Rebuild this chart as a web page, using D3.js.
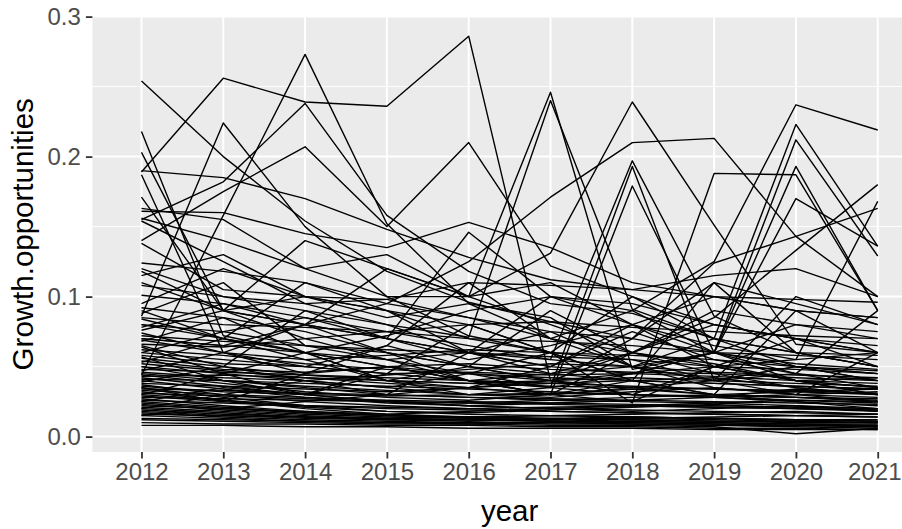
<!DOCTYPE html>
<html>
<head>
<meta charset="utf-8">
<script src="https://cdn.jsdelivr.net/npm/d3@7"></script>
<style>
  html, body { margin: 0; padding: 0; background: #ffffff; }
  svg { display: block; }
</style>
</head>
<body>
<svg id="chart" width="902" height="529"></svg>
<script>
// ---------------- data ----------------
const years = [2012, 2013, 2014, 2015, 2016, 2017, 2018, 2019, 2020, 2021];
const yTickValues = [0.0, 0.1, 0.2, 0.3];
const yTickLabels = ["0.0", "0.1", "0.2", "0.3"];
const xLabel = "year";
const yLabel = "Growth.opportunities";

// firms with pronounced peaks (upper part of the chart)
const upperSeries = [
  [0.189,0.256,0.239,0.236,0.286,0.040,0.030,0.028,0.034,0.030],
  [0.254,0.200,0.154,0.118,0.096,0.082,0.070,0.060,0.052,0.048],
  [0.044,0.158,0.273,0.152,0.095,0.070,0.060,0.052,0.040,0.038],
  [0.086,0.224,0.150,0.100,0.072,0.060,0.055,0.040,0.045,0.035],
  [0.140,0.175,0.207,0.150,0.210,0.122,0.100,0.080,0.070,0.060],
  [0.155,0.182,0.238,0.158,0.118,0.095,0.088,0.070,0.060,0.058],
  [0.218,0.072,0.060,0.055,0.045,0.040,0.035,0.030,0.028,0.025],
  [0.203,0.090,0.070,0.055,0.060,0.045,0.040,0.042,0.035,0.030],
  [0.190,0.185,0.170,0.148,0.128,0.112,0.105,0.100,0.098,0.096],
  [0.187,0.060,0.045,0.050,0.040,0.035,0.030,0.028,0.025,0.022],
  [0.070,0.065,0.080,0.095,0.125,0.171,0.210,0.213,0.143,0.100],
  [0.163,0.155,0.120,0.130,0.100,0.131,0.239,0.151,0.066,0.060],
  [0.161,0.160,0.145,0.135,0.153,0.135,0.110,0.100,0.090,0.085],
  [0.156,0.140,0.120,0.100,0.100,0.246,0.048,0.060,0.040,0.035],
  [0.154,0.125,0.095,0.080,0.071,0.240,0.091,0.070,0.060,0.050],
  [0.138,0.105,0.100,0.090,0.080,0.060,0.024,0.188,0.187,0.090],
  [0.124,0.118,0.110,0.095,0.085,0.070,0.090,0.125,0.237,0.219],
  [0.118,0.090,0.080,0.070,0.060,0.055,0.050,0.070,0.223,0.136],
  [0.108,0.100,0.090,0.080,0.060,0.050,0.045,0.060,0.212,0.129],
  [0.101,0.095,0.085,0.075,0.065,0.055,0.197,0.086,0.060,0.050],
  [0.090,0.070,0.060,0.050,0.045,0.035,0.193,0.040,0.050,0.045],
  [0.080,0.075,0.065,0.060,0.050,0.045,0.060,0.085,0.133,0.180],
  [0.060,0.055,0.050,0.045,0.040,0.038,0.070,0.124,0.143,0.163],
  [0.070,0.065,0.060,0.050,0.040,0.045,0.050,0.060,0.193,0.090],
  [0.050,0.045,0.040,0.035,0.030,0.030,0.179,0.060,0.170,0.136],
  [0.171,0.090,0.080,0.070,0.146,0.100,0.080,0.065,0.055,0.168]
];

// firms moving in the middle band
const middleSeries = [
  [0.120,0.100,0.095,0.098,0.110,0.108,0.105,0.115,0.120,0.100],
  [0.115,0.130,0.100,0.090,0.060,0.050,0.080,0.100,0.090,0.085],
  [0.110,0.090,0.140,0.120,0.100,0.110,0.080,0.050,0.040,0.030],
  [0.095,0.120,0.100,0.085,0.095,0.085,0.050,0.040,0.100,0.080],
  [0.092,0.085,0.060,0.040,0.050,0.090,0.060,0.050,0.040,0.035],
  [0.088,0.110,0.065,0.055,0.040,0.030,0.040,0.110,0.060,0.050],
  [0.084,0.070,0.110,0.090,0.070,0.060,0.100,0.070,0.050,0.040],
  [0.078,0.095,0.080,0.120,0.100,0.080,0.060,0.080,0.070,0.060],
  [0.074,0.060,0.050,0.065,0.110,0.070,0.050,0.040,0.030,0.025],
  [0.068,0.085,0.075,0.060,0.040,0.030,0.060,0.090,0.080,0.075],
  [0.065,0.050,0.090,0.070,0.060,0.100,0.090,0.060,0.050,0.045],
  [0.057,0.040,0.030,0.045,0.080,0.060,0.040,0.030,0.090,0.060],
  [0.053,0.070,0.055,0.040,0.035,0.050,0.075,0.055,0.045,0.090],
  [0.047,0.060,0.080,0.060,0.050,0.040,0.030,0.050,0.070,0.050],
  [0.039,0.050,0.040,0.030,0.060,0.075,0.050,0.035,0.030,0.060],
  [0.035,0.025,0.045,0.065,0.050,0.040,0.060,0.045,0.035,0.030],
  [0.030,0.045,0.060,0.040,0.030,0.035,0.045,0.060,0.080,0.070],
  [0.025,0.035,0.030,0.050,0.040,0.030,0.035,0.040,0.050,0.040],
  [0.020,0.030,0.040,0.035,0.045,0.060,0.040,0.030,0.025,0.020],
  [0.015,0.020,0.025,0.030,0.035,0.030,0.025,0.050,0.040,0.030]
];

// firms in the dense low band
const lowerSeries = [
  [0.085,0.080,0.078,0.075,0.070,0.068,0.065,0.060,0.058,0.055],
  [0.080,0.070,0.060,0.072,0.090,0.100,0.095,0.080,0.070,0.065],
  [0.076,0.090,0.100,0.098,0.085,0.075,0.070,0.110,0.095,0.080],
  [0.072,0.068,0.065,0.062,0.060,0.057,0.055,0.050,0.048,0.045],
  [0.069,0.060,0.055,0.058,0.062,0.060,0.058,0.055,0.050,0.047],
  [0.066,0.064,0.070,0.075,0.080,0.082,0.078,0.075,0.072,0.070],
  [0.064,0.045,0.030,0.025,0.022,0.020,0.018,0.020,0.022,0.018],
  [0.062,0.058,0.052,0.048,0.045,0.042,0.040,0.038,0.036,0.034],
  [0.060,0.075,0.085,0.070,0.055,0.065,0.080,0.060,0.045,0.040],
  [0.058,0.052,0.050,0.045,0.046,0.044,0.045,0.043,0.040,0.042],
  [0.056,0.050,0.044,0.040,0.038,0.036,0.035,0.034,0.032,0.030],
  [0.054,0.048,0.046,0.050,0.052,0.048,0.046,0.045,0.042,0.040],
  [0.052,0.047,0.042,0.038,0.035,0.040,0.045,0.050,0.055,0.060],
  [0.050,0.040,0.035,0.030,0.028,0.026,0.025,0.024,0.022,0.020],
  [0.048,0.046,0.044,0.042,0.040,0.038,0.036,0.034,0.033,0.031],
  [0.046,0.042,0.040,0.044,0.048,0.052,0.050,0.046,0.044,0.042],
  [0.045,0.040,0.036,0.033,0.030,0.028,0.032,0.035,0.030,0.028],
  [0.044,0.038,0.032,0.028,0.026,0.030,0.034,0.030,0.028,0.026],
  [0.043,0.044,0.042,0.040,0.038,0.040,0.042,0.040,0.038,0.036],
  [0.042,0.036,0.030,0.025,0.022,0.020,0.022,0.024,0.026,0.024],
  [0.041,0.040,0.038,0.036,0.034,0.032,0.030,0.028,0.026,0.025],
  [0.040,0.034,0.028,0.024,0.022,0.024,0.026,0.028,0.030,0.032],
  [0.038,0.036,0.034,0.032,0.035,0.038,0.040,0.038,0.036,0.034],
  [0.037,0.030,0.025,0.022,0.020,0.018,0.017,0.016,0.015,0.014],
  [0.036,0.032,0.030,0.029,0.030,0.031,0.030,0.029,0.028,0.027],
  [0.035,0.028,0.022,0.018,0.016,0.015,0.014,0.013,0.012,0.012],
  [0.034,0.033,0.031,0.030,0.028,0.027,0.026,0.025,0.024,0.023],
  [0.033,0.030,0.028,0.026,0.025,0.024,0.023,0.022,0.021,0.020],
  [0.032,0.026,0.020,0.016,0.014,0.013,0.012,0.011,0.010,0.010],
  [0.031,0.029,0.027,0.025,0.024,0.026,0.028,0.030,0.032,0.034],
  [0.030,0.026,0.022,0.020,0.019,0.018,0.017,0.016,0.015,0.014],
  [0.029,0.025,0.021,0.018,0.017,0.019,0.021,0.023,0.020,0.018],
  [0.028,0.027,0.026,0.025,0.024,0.023,0.022,0.021,0.020,0.019],
  [0.027,0.022,0.018,0.015,0.014,0.015,0.016,0.017,0.018,0.016],
  [0.026,0.024,0.022,0.021,0.020,0.021,0.022,0.021,0.020,0.019],
  [0.025,0.021,0.017,0.015,0.013,0.012,0.011,0.010,0.009,0.009],
  [0.024,0.020,0.018,0.016,0.018,0.020,0.019,0.018,0.017,0.016],
  [0.023,0.019,0.016,0.014,0.013,0.012,0.013,0.014,0.015,0.016],
  [0.022,0.020,0.017,0.015,0.014,0.013,0.012,0.011,0.011,0.010],
  [0.021,0.018,0.015,0.013,0.012,0.011,0.010,0.009,0.008,0.008],
  [0.020,0.017,0.014,0.013,0.014,0.015,0.014,0.013,0.012,0.011],
  [0.019,0.016,0.014,0.012,0.011,0.012,0.013,0.012,0.011,0.010],
  [0.018,0.015,0.013,0.012,0.012,0.013,0.014,0.013,0.012,0.011],
  [0.017,0.014,0.012,0.011,0.010,0.010,0.009,0.008,0.007,0.006],
  [0.016,0.015,0.014,0.013,0.012,0.011,0.010,0.009,0.008,0.007],
  [0.015,0.013,0.011,0.010,0.009,0.010,0.011,0.010,0.009,0.008],
  [0.013,0.012,0.011,0.010,0.010,0.009,0.009,0.008,0.008,0.007],
  [0.012,0.011,0.010,0.009,0.009,0.008,0.008,0.007,0.002,0.006],
  [0.010,0.009,0.009,0.008,0.008,0.007,0.007,0.006,0.006,0.005],
  [0.008,0.008,0.007,0.007,0.006,0.006,0.006,0.005,0.005,0.005]
];

// ---------------- drawing ----------------
const allSeries = upperSeries.concat(middleSeries, lowerSeries);

const W = 902, H = 529;
const panel = { left: 92.4, right: 926.8, top: 16.6, bottom: 452 };

const svg = d3.select("#chart");

const x = d3.scalePoint()
  .domain(years)
  .range([panel.left, panel.right])
  .padding(0.6);

const y = d3.scaleLinear()
  .domain([-0.011, 0.300])
  .range([panel.bottom, panel.top]);

// panel background
svg.append("rect")
  .attr("x", panel.left).attr("y", panel.top)
  .attr("width", panel.right - panel.left)
  .attr("height", panel.bottom - panel.top)
  .attr("fill", "#EBEBEB");

// minor grid (y)
const minorY = [0.05, 0.15, 0.25];
svg.append("g").selectAll("line").data(minorY).join("line")
  .attr("x1", panel.left).attr("x2", panel.right)
  .attr("y1", d => y(d)).attr("y2", d => y(d))
  .attr("stroke", "#ffffff").attr("stroke-width", 1);

// major grid
svg.append("g").selectAll("line").data(yTickValues).join("line")
  .attr("x1", panel.left).attr("x2", panel.right)
  .attr("y1", d => y(d)).attr("y2", d => y(d))
  .attr("stroke", "#ffffff").attr("stroke-width", 2);
svg.append("g").selectAll("line").data(years).join("line")
  .attr("x1", d => x(d)).attr("x2", d => x(d))
  .attr("y1", panel.top).attr("y2", panel.bottom)
  .attr("stroke", "#ffffff").attr("stroke-width", 2);

// lines
const line = d3.line()
  .x((d, i) => x(years[i]))
  .y(d => y(d));

svg.append("g")
  .selectAll("path")
  .data(allSeries)
  .join("path")
  .attr("d", line)
  .attr("fill", "none")
  .attr("stroke", "#000000")
  .attr("stroke-width", 1.4)
  .attr("stroke-linejoin", "round");

// axes
const yAxis = d3.axisLeft(y)
  .tickValues(yTickValues)
  .tickFormat((d, i) => yTickLabels[i])
  .tickSize(6.5)
  .tickPadding(5);
const gy = svg.append("g")
  .attr("transform", `translate(${panel.left},0)`)
  .call(yAxis);
gy.select(".domain").remove();
gy.selectAll(".tick line").attr("stroke", "#333333").attr("stroke-width", 1.8);
gy.selectAll(".tick text")
  .attr("fill", "#4D4D4D")
  .style("font-family", "'Liberation Sans', Arial, sans-serif")
  .style("font-size", "24px");

const xAxis = d3.axisBottom(x)
  .tickSize(6.5)
  .tickPadding(4)
  .tickFormat(d3.format("d"));
const gx = svg.append("g")
  .attr("transform", `translate(0,${panel.bottom})`)
  .call(xAxis);
gx.select(".domain").remove();
gx.selectAll(".tick line").attr("stroke", "#333333").attr("stroke-width", 1.8);
gx.selectAll(".tick text")
  .attr("fill", "#4D4D4D")
  .style("font-family", "'Liberation Sans', Arial, sans-serif")
  .style("font-size", "24px");
// keep the last label inside the picture, as in the reference
gx.selectAll(".tick text")
  .filter(d => d === years[years.length - 1])
  .attr("text-anchor", "end")
  .attr("x", W - 1 - x(years[years.length - 1]));

// titles
svg.append("text")
  .attr("x", (panel.left + panel.right) / 2)
  .attr("y", 521)
  .attr("text-anchor", "middle")
  .attr("fill", "#000000")
  .style("font-family", "'Liberation Sans', Arial, sans-serif")
  .style("font-size", "29.5px")
  .text(xLabel);

svg.append("text")
  .attr("transform", `translate(33,${(panel.top + panel.bottom) / 2}) rotate(-90)`)
  .attr("text-anchor", "middle")
  .attr("fill", "#000000")
  .style("font-family", "'Liberation Sans', Arial, sans-serif")
  .style("font-size", "29.5px")
  .text(yLabel);
</script>
</body>
</html>
